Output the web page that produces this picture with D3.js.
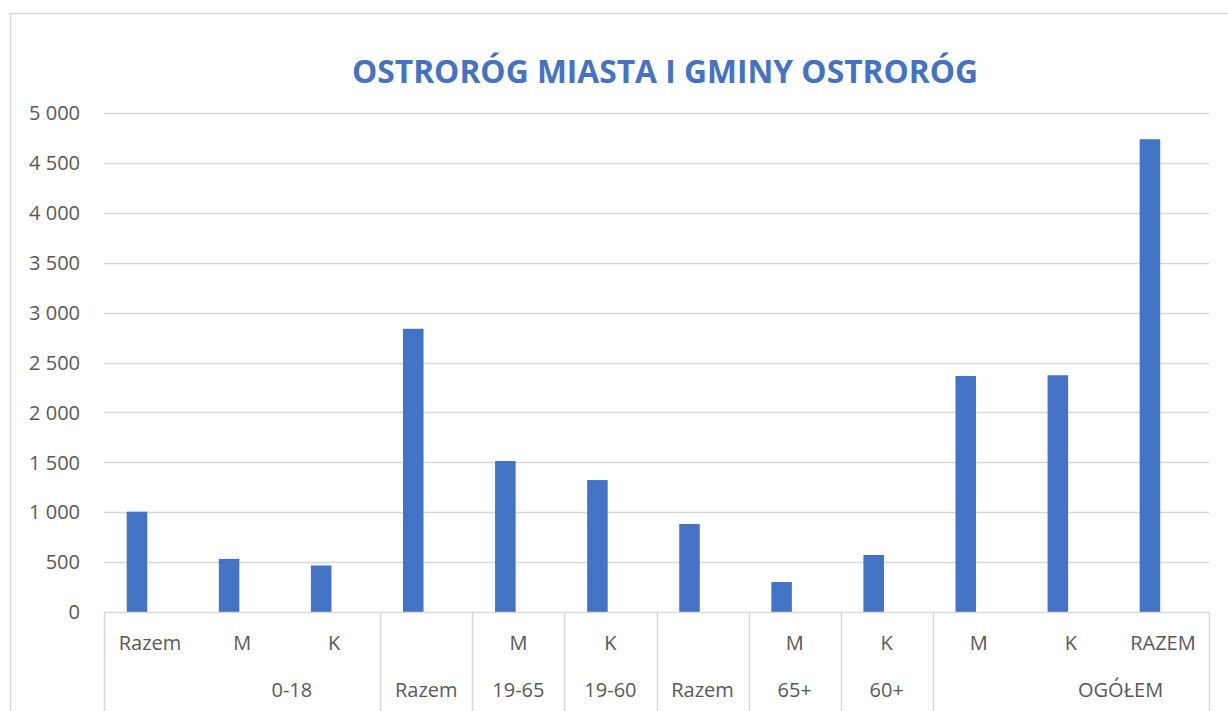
<!DOCTYPE html>
<html>
<head>
<meta charset="utf-8">
<script src="https://cdn.jsdelivr.net/npm/d3@7"></script>
<style>
  html, body { margin: 0; padding: 0; background: #fff; }
  svg { display: block; }
  text { font-family: "Open Sans", "Liberation Sans", sans-serif; }
</style>
</head>
<body>
<svg id="chart" width="1228" height="711"></svg>
<script>
// ---- data ----
const title = "OSTRORÓG MIASTA I GMINY OSTRORÓG";
const categories = ["Razem", "M", "K", "", "M", "K", "", "M", "K", "M", "K", "RAZEM"];
const groups = ["0-18", "0-18", "0-18", "Razem", "19-65", "19-60", "Razem", "65+", "60+", "OGÓŁEM", "OGÓŁEM", "OGÓŁEM"];
const values = [1005, 532, 466, 2838, 1513, 1322, 882, 300, 571, 2365, 2372, 4737];
const yTicks = [0, 500, 1000, 1500, 2000, 2500, 3000, 3500, 4000, 4500, 5000];

// ---- layout ----
const svg = d3.select("#chart");
const W = 1228, H = 711;
const plot = { left: 104, right: 1209, top: 113, bottom: 612 };
const blue = "#4472C4";
const grid = "#D9D9D9";
const txt = "#595959";

// outer chart border
svg.append("rect")
  .attr("x", 10.5).attr("y", 13.5)
  .attr("width", W + 20).attr("height", H + 20)
  .attr("fill", "none").attr("stroke", grid).attr("stroke-width", 1.5);

const idx = categories.map((d, i) => i);
const x = d3.scaleBand().domain(idx).range([plot.left, plot.right]).paddingInner(0).paddingOuter(0);
const y = d3.scaleLinear().domain([0, 5000]).range([plot.bottom, plot.top]);
const bw = x.bandwidth();

// title
svg.append("text")
  .attr("x", 665).attr("y", 83)
  .attr("text-anchor", "middle")
  .attr("font-size", 32).attr("font-weight", "bold")
  .attr("fill", blue)
  .attr("textLength", 626).attr("lengthAdjust", "spacingAndGlyphs")
  .text(title);

// gridlines
svg.append("g").selectAll("line").data(yTicks.filter(d => d > 0)).join("line")
  .attr("x1", plot.left).attr("x2", plot.right)
  .attr("y1", d => Math.round(y(d)) + 0.5).attr("y2", d => Math.round(y(d)) + 0.5)
  .attr("stroke", grid).attr("stroke-width", 1.5);

// y axis labels
const fmt = v => d3.format(",")(v).replace(/,/g, " ");
svg.append("g").selectAll("text").data(yTicks).join("text")
  .attr("x", 80).attr("y", d => y(d))
  .attr("dy", "0.36em")
  .attr("text-anchor", "end")
  .attr("font-size", 20).attr("fill", txt)
  .text(d => fmt(d));

// bars
svg.append("g").selectAll("rect").data(values).join("rect")
  .attr("x", (d, i) => x(i) + bw * 0.247)
  .attr("width", bw * 0.223)
  .attr("y", d => y(d))
  .attr("height", d => y(0) - y(d))
  .attr("fill", blue);

// category axis line
svg.append("line")
  .attr("x1", plot.left).attr("x2", plot.right)
  .attr("y1", plot.bottom + 0.5).attr("y2", plot.bottom + 0.5)
  .attr("stroke", grid).attr("stroke-width", 1.5);

// group spans
const spans = [];
groups.forEach((g, i) => {
  if (i > 0 && groups[i - 1] === g && spans[spans.length - 1].name === g) {
    spans[spans.length - 1].end = i;
  } else {
    spans.push({ name: g, start: i, end: i });
  }
});

// separators
const sepX = spans.map(s => x(s.start)).concat([plot.right]);
svg.append("g").selectAll("line").data(sepX).join("line")
  .attr("x1", d => Math.round(d) + 0.5).attr("x2", d => Math.round(d) + 0.5)
  .attr("y1", plot.bottom).attr("y2", H)
  .attr("stroke", grid).attr("stroke-width", 1.5);

// inner category labels
svg.append("g").selectAll("text").data(categories).join("text")
  .attr("x", (d, i) => x(i) + bw / 2)
  .attr("y", 650)
  .attr("text-anchor", "middle")
  .attr("font-size", 20).attr("fill", txt)
  .text(d => d);

// outer group labels
svg.append("g").selectAll("text").data(spans).join("text")
  .attr("x", s => {
    const c = (x(s.start) + x(s.end) + bw) / 2;
    return s.end > s.start ? c + bw * 0.54 : c;
  })
  .attr("y", 697)
  .attr("text-anchor", "middle")
  .attr("font-size", 20).attr("fill", txt)
  .text(s => s.name);
</script>
</body>
</html>
